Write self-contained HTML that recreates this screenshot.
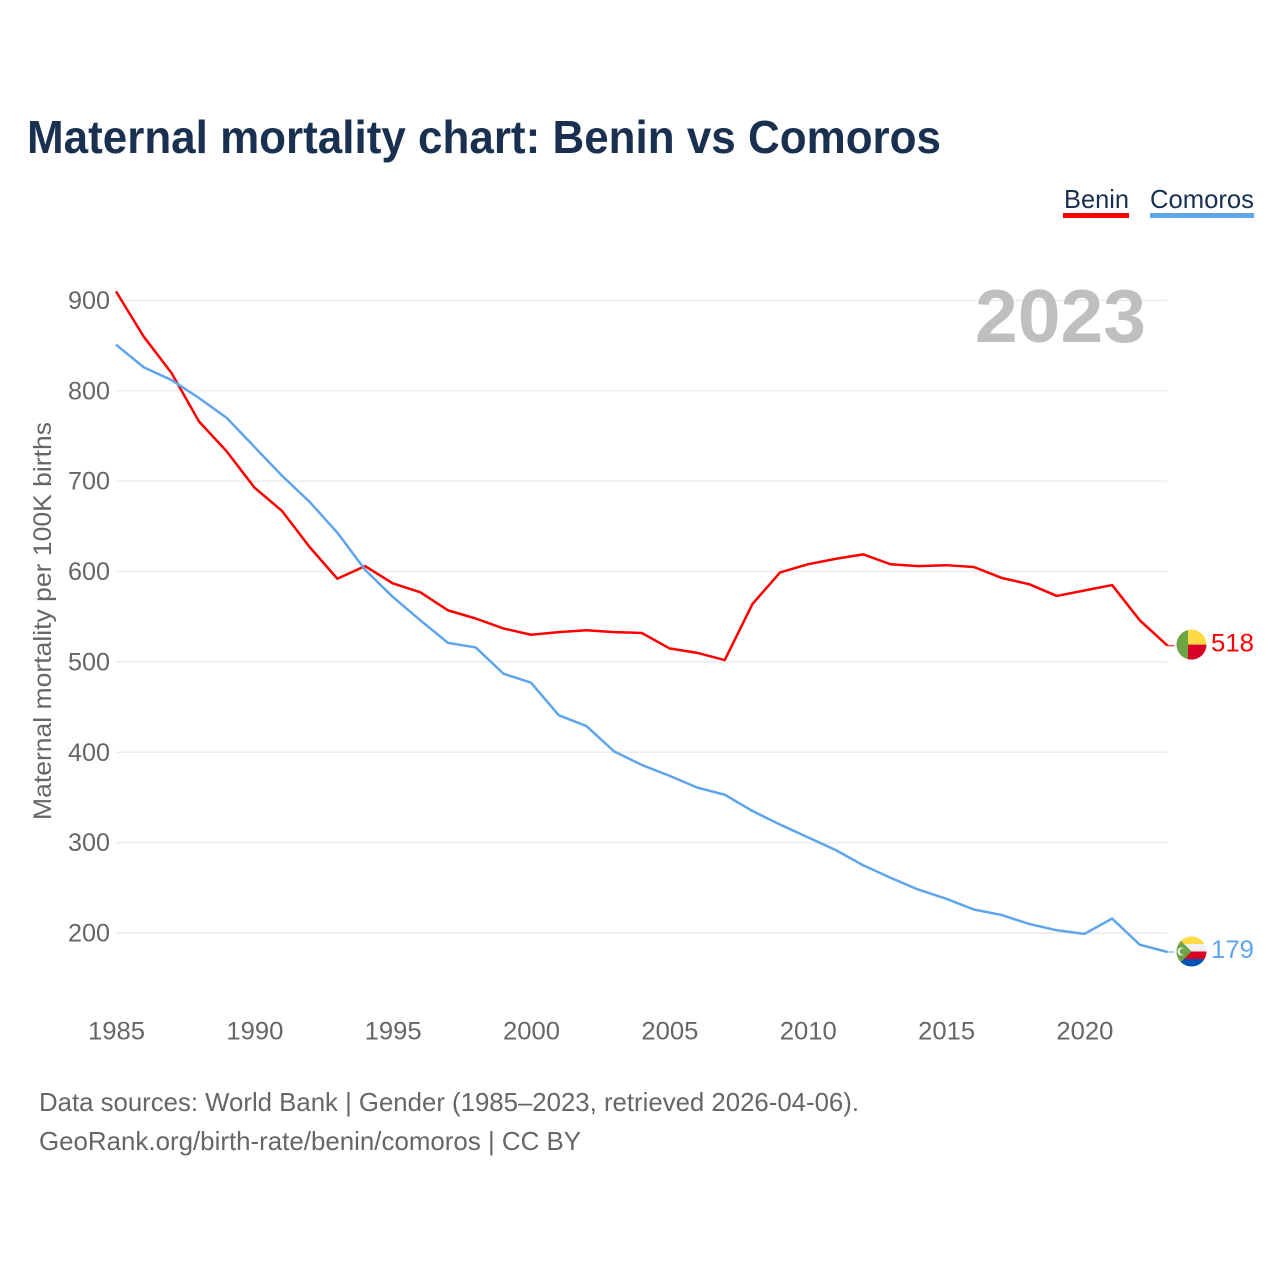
<!DOCTYPE html>
<html lang="en">
<head>
<meta charset="utf-8">
<title>Maternal mortality chart: Benin vs Comoros</title>
<style>
html,body{margin:0;padding:0;background:#fff;width:1280px;height:1280px;overflow:hidden}
svg{display:block}
text{font-family:"Liberation Sans",sans-serif}
</style>
</head>
<body>
<svg id="chart" xmlns="http://www.w3.org/2000/svg" width="1280" height="1280" viewBox="0 0 1280 1280">
  <rect x="0" y="0" width="1280" height="1280" fill="#ffffff"/>
  <text x="27" y="153" font-size="46" font-weight="700" fill="#1a3050" textLength="914" lengthAdjust="spacingAndGlyphs">Maternal mortality chart: Benin vs Comoros</text>

  <g id="grid"></g>
  <g id="yticks"></g>
  <g id="xticks"></g>

  <text transform="translate(51,820) rotate(-90)" x="0" y="0" font-size="25" fill="#666666" textLength="398" lengthAdjust="spacingAndGlyphs">Maternal mortality per 100K births</text>

  <text x="975" y="342" font-size="75" font-weight="700" fill="#bfbfbf" textLength="171" lengthAdjust="spacingAndGlyphs">2023</text>

  <g id="series"></g>

  <g>
    <text x="1064" y="208" font-size="26" fill="#1a3050" textLength="65" lengthAdjust="spacingAndGlyphs">Benin</text>
    <rect x="1063" y="213" width="66" height="5" fill="#ff0000"/>
  </g>
  <g>
    <text x="1150" y="208" font-size="26" fill="#1a3050" textLength="104" lengthAdjust="spacingAndGlyphs">Comoros</text>
    <rect x="1150" y="213" width="104" height="5" fill="#5ea5ec"/>
  </g>

  <g id="ends"></g>

  <text x="39" y="1111" font-size="26" fill="#666666" textLength="820" lengthAdjust="spacingAndGlyphs">Data sources: World Bank | Gender (1985–2023, retrieved 2026-04-06).</text>
  <text x="39" y="1150" font-size="26" fill="#666666" textLength="542" lengthAdjust="spacingAndGlyphs">GeoRank.org/birth-rate/benin/comoros | CC BY</text>
</svg>
<script>
const years = [1985,1986,1987,1988,1989,1990,1991,1992,1993,1994,1995,1996,1997,1998,1999,2000,2001,2002,2003,2004,2005,2006,2007,2008,2009,2010,2011,2012,2013,2014,2015,2016,2017,2018,2019,2020,2021,2022,2023];
const beninValues = [910,860,820,766,733,693,667,627,592,606,587,577,557,548,537,530,533,535,533,532,515,510,502,564,599,608,614,619,608,606,607,605,593,586,573,579,585,546,518];
const comorosValues = [851,826,812,792,770,738,706,677,643,602,572,546,521,516,487,477,441,429,401,386,374,361,353,335,320,306,292,275,261,248,238,226,220,210,203,199,216,187,179];
const yTickValues = [200,300,400,500,600,700,800,900];
const xTickValues = [1985,1990,1995,2000,2005,2010,2015,2020];

const NS = 'http://www.w3.org/2000/svg';
const X0 = 116, XPER = 27.67, Y200 = 933, YPER = 0.9037;
function xScale(year){ return X0 + (year - 1985) * XPER; }
function yScale(value){ return Y200 - (value - 200) * YPER; }
function make(tag, attrs, parent){
  const el = document.createElementNS(NS, tag);
  for (const k in attrs) el.setAttribute(k, attrs[k]);
  parent.appendChild(el);
  return el;
}

const grid = document.getElementById('grid');
const yticks = document.getElementById('yticks');
const xticks = document.getElementById('xticks');
const series = document.getElementById('series');
const ends = document.getElementById('ends');

yTickValues.forEach(function(v){
  const line = make('line', {x1:116, x2:1167, y1:yScale(v), y2:yScale(v), stroke:'#ececec', 'stroke-width':1.5}, grid);
  
  
  const label = make('text', {x:110, y:yScale(v)+8.5, 'text-anchor':'end', 'font-size':25, fill:'#666666', textLength:42, lengthAdjust:'spacingAndGlyphs'}, yticks);
  label.textContent = String(v);
  
  
});

xTickValues.forEach(function(v){
  const label = make('text', {x:xScale(v)+0.5, y:1039.5, 'text-anchor':'middle', 'font-size':25, fill:'#666666', textLength:57, lengthAdjust:'spacingAndGlyphs'}, xticks);
  label.textContent = String(v);
  
  
});

function drawSeries(values, color, name){
  const pts = values.map(function(v, i){ return xScale(years[i]).toFixed(2) + ',' + yScale(v).toFixed(2); }).join(' ');
  const line = make('polyline', {points:pts, fill:'none', stroke:color, 'stroke-width':2.5, 'stroke-linejoin':'round'}, series);
  
  
  const lastX = xScale(years[years.length-1]);
  const lastY = yScale(values[values.length-1]);
  const tail = make('line', {x1:lastX, x2:lastX+7, y1:lastY, y2:lastY, stroke:color, 'stroke-width':1.5, opacity:0.7}, series);
  
  
}
drawSeries(beninValues, '#ff0000', 'line-benin');
drawSeries(comorosValues, '#5ea5ec', 'line-comoros');

function drawEndLabel(values, color, name, dy){
  const cy = yScale(values[values.length-1]);
  const label = make('text', {x:1254, y:cy+dy, 'text-anchor':'end', 'font-size':25, fill:color, textLength:43, lengthAdjust:'spacingAndGlyphs'}, ends);
  label.textContent = String(values[values.length-1]);
  
  
}
drawEndLabel(beninValues, '#ff0000', 'value-label-benin', 6);
drawEndLabel(comorosValues, '#5ea5ec', 'value-label-comoros', 6);

const defs = make('defs', {}, ends);
const cx = 1191.5, r = 15;

function flagGroup(id, cy, name){
  const clip = make('clipPath', {id:id}, defs);
  make('circle', {cx:cx, cy:cy, r:r}, clip);
  const g = make('g', {'clip-path':'url(#' + id + ')'}, ends);
  
  
  return g;
}

const by = yScale(beninValues[beninValues.length-1]) - 1;
const bf = flagGroup('clip-benin', by, 'flag-benin');
make('rect', {x:cx-r, y:by-r, width:r, height:2*r, fill:'#6da544'}, bf);
make('rect', {x:cx-3.5, y:by-r, width:r+3.5, height:r, fill:'#ffda44'}, bf);
make('rect', {x:cx-3.5, y:by, width:r+3.5, height:r, fill:'#d80027'}, bf);

const cy2 = yScale(comorosValues[comorosValues.length-1]) - 0.5;
const cf = flagGroup('clip-comoros', cy2, 'flag-comoros');
make('rect', {x:cx-r, y:cy2-r, width:2*r, height:7.5, fill:'#ffda44'}, cf);
make('rect', {x:cx-r, y:cy2-7.5, width:2*r, height:7.5, fill:'#f0f0f0'}, cf);
make('rect', {x:cx-r, y:cy2, width:2*r, height:7.5, fill:'#d80027'}, cf);
make('rect', {x:cx-r, y:cy2+7.5, width:2*r, height:7.5, fill:'#0052b4'}, cf);
make('polygon', {points:[cx-r,cy2-r, cx,cy2, cx-r,cy2+r].join(' '), fill:'#6da544'}, cf);
make('circle', {cx:cx-10, cy:cy2, r:4, fill:'#f0f0f0'}, cf);
make('circle', {cx:cx-8.5, cy:cy2, r:3.2, fill:'#6da544'}, cf);
</script>
</body>
</html>
